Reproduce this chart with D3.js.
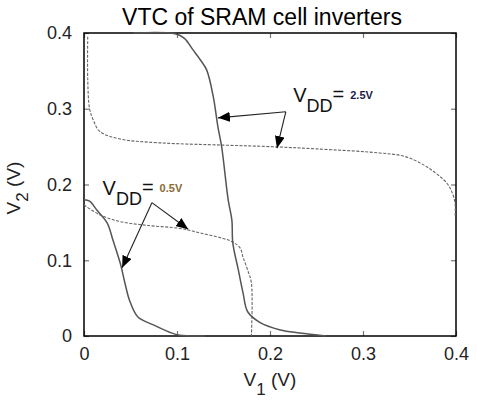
<!DOCTYPE html>
<html>
<head>
<meta charset="utf-8">
<script src="https://cdn.jsdelivr.net/npm/d3@7"></script>
<style>
  body { margin: 0; background: #fff; }
  text { font-family: "Liberation Sans", Arial, sans-serif; }
</style>
</head>
<body>
<div id="chart"></div>
<script>
// tick values on both axes
var ticks = [0, 0.1, 0.2, 0.3, 0.4];

// VDD = 2.5V curves (V1, V2)
var vdd25a = [[0.004,0.395],[0.004,0.34],[0.006,0.30],[0.010,0.285],[0.017,0.27],[0.039,0.26],
  [0.082,0.255],[0.15,0.252],[0.2,0.25],[0.25,0.247],[0.318,0.2416],[0.345,0.237],[0.369,0.223],
  [0.39,0.202],[0.396,0.189],[0.399,0.175],[0.399,0.157]];
var vdd25b = [[0.053,0.4],[0.098,0.399],[0.108,0.393],[0.117,0.378],[0.126,0.363],[0.132,0.351],
  [0.139,0.316],[0.144,0.276],[0.148,0.25],[0.155,0.18],[0.159,0.153],[0.160,0.123],[0.166,0.087],
  [0.171,0.057],[0.176,0.032],[0.189,0.018],[0.211,0.008],[0.232,0.004],[0.26,0.0]];

// VDD = 0.5V curves
var vdd05a = [[0,0.173],[0.017,0.160],[0.039,0.151],[0.068,0.146],[0.103,0.142],[0.125,0.136],
  [0.149,0.129],[0.160,0.124],[0.168,0.116],[0.171,0.104],[0.176,0.087],[0.18,0.07],[0.18,0.0]];
var vdd05b = [[0,0.18],[0.006,0.178],[0.014,0.166],[0.025,0.149],[0.031,0.127],[0.039,0.096],
  [0.044,0.07],[0.049,0.047],[0.058,0.025],[0.074,0.015],[0.092,0.005],[0.103,0.001],[0.13,0]];

// annotations: text anchor, arrow apex, arrow tips
var labels = ["2.5V", "0.5V"];
var labelAt = [[0.225,0.309],[0.020,0.186]];
var apex = [[0.217,0.296],[0.073,0.176]];
var tips = [[[0.144,0.288],[0.2075,0.248]], [[0.112,0.141],[0.041,0.090]]];
var labelColors = ["#1a1a4a", "#8a6a35"];

var margin = {top: 33, right: 21, bottom: 64, left: 84},
    width = 477 - margin.left - margin.right,
    height = 400 - margin.top - margin.bottom;

var svg = d3.select("#chart")
  .append("svg")
    .attr("width", 477)
    .attr("height", 400);

var defs = svg.append("defs");
defs.append("marker")
    .attr("id", "head")
    .attr("viewBox", "0 0 12 10")
    .attr("refX", 12)
    .attr("refY", 5)
    .attr("markerWidth", 12)
    .attr("markerHeight", 10)
    .attr("markerUnits", "userSpaceOnUse")
    .attr("orient", "auto")
  .append("path")
    .attr("d", "M0,0 L12,5 L0,10 Z")
    .attr("fill", "#000");

var g = svg.append("g")
    .attr("transform", "translate(" + margin.left + "," + margin.top + ")");

var x = d3.scaleLinear().domain([0, 0.4]).range([0, width]);
var y = d3.scaleLinear().domain([0, 0.4]).range([height, 0]);

var fmt = function(d) { return d === 0 ? "0" : d3.format(".1f")(d); };

// axes with inward ticks
var xb = g.append("g")
    .attr("transform", "translate(0," + height + ")")
    .call(d3.axisBottom(x).tickValues(ticks).tickFormat(fmt).tickSizeInner(-5).tickSizeOuter(0).tickPadding(11));
var yl = g.append("g")
    .call(d3.axisLeft(y).tickValues(ticks).tickFormat(fmt).tickSizeInner(-5).tickSizeOuter(0).tickPadding(12));
g.append("g")
    .call(d3.axisTop(x).tickValues(ticks).tickFormat("").tickSizeInner(-5).tickSizeOuter(0));
g.append("g")
    .attr("transform", "translate(" + width + ",0)")
    .call(d3.axisRight(y).tickValues(ticks).tickFormat("").tickSizeInner(-5).tickSizeOuter(0));

g.selectAll(".domain").remove();
g.selectAll(".tick line").attr("stroke", "#777").attr("stroke-width", 1.2);
g.selectAll(".tick text")
    .attr("font-size", 18)
    .attr("font-family", "Liberation Sans, Arial, sans-serif")
    .attr("fill", "#222");

g.append("rect")
    .attr("width", width)
    .attr("height", height)
    .attr("fill", "none")
    .attr("stroke", "#000")
    .attr("stroke-width", 1.5);

// curves
var line = d3.line()
    .x(function(d) { return x(d[0]); })
    .y(function(d) { return y(d[1]); })
    .curve(d3.curveCatmullRom.alpha(0.5));

[vdd25a, vdd05a].forEach(function(c) {
  g.append("path")
    .datum(c)
    .attr("d", line)
    .attr("fill", "none")
    .attr("stroke", "#666")
    .attr("stroke-width", 1.1)
    .attr("stroke-dasharray", "3,1.5");
});
[vdd25b, vdd05b].forEach(function(c) {
  g.append("path")
    .datum(c)
    .attr("d", line)
    .attr("fill", "none")
    .attr("stroke", "#555")
    .attr("stroke-width", 1.5);
});

// annotation arrows and labels
labels.forEach(function(lab, i) {
  tips[i].forEach(function(t) {
    g.append("line")
      .attr("x1", x(apex[i][0])).attr("y1", y(apex[i][1]))
      .attr("x2", x(t[0])).attr("y2", y(t[1]))
      .attr("stroke", "#222")
      .attr("stroke-width", 1.1)
      .attr("marker-end", "url(#head)");
  });
  var tx = x(labelAt[i][0]), ty = y(labelAt[i][1]);
  var t = g.append("text")
    .attr("x", tx).attr("y", ty)
    .attr("font-size", 20)
    .attr("fill", "#111");
  t.append("tspan").text("V");
  t.append("tspan").attr("dy", 10).attr("font-size", 18).text("DD");
  t.append("tspan").attr("dy", -11).attr("font-size", 20).text("=");
  g.append("text")
    .attr("x", tx + 57).attr("y", ty - 3)
    .attr("font-family", "Liberation Serif, Times New Roman, serif")
    .attr("font-weight", "bold")
    .attr("font-size", 11)
    .attr("fill", labelColors[i])
    .text(lab);
});

// title
svg.append("text")
    .attr("x", margin.left + width / 2 - 8)
    .attr("y", 25)
    .attr("text-anchor", "middle")
    .attr("font-size", 23)
    .attr("fill", "#000")
    .text("VTC of SRAM cell inverters");

// x label
var xt = svg.append("text")
    .attr("x", margin.left + width / 2)
    .attr("y", 386)
    .attr("text-anchor", "middle")
    .attr("font-size", 19)
    .attr("fill", "#222");
xt.append("tspan").text("V");
xt.append("tspan").attr("dy", 9).attr("font-size", 17).text("1");
xt.append("tspan").attr("dy", -9).attr("font-size", 19).text(" (V)");

// y label
var yt = svg.append("text")
    .attr("transform", "translate(20," + 188 + ") rotate(-90)")
    .attr("text-anchor", "middle")
    .attr("font-size", 19)
    .attr("fill", "#222");
yt.append("tspan").text("V");
yt.append("tspan").attr("dy", 8).attr("font-size", 17).text("2");
yt.append("tspan").attr("dy", -8).attr("font-size", 19).text(" (V)");
</script>
</body>
</html>
